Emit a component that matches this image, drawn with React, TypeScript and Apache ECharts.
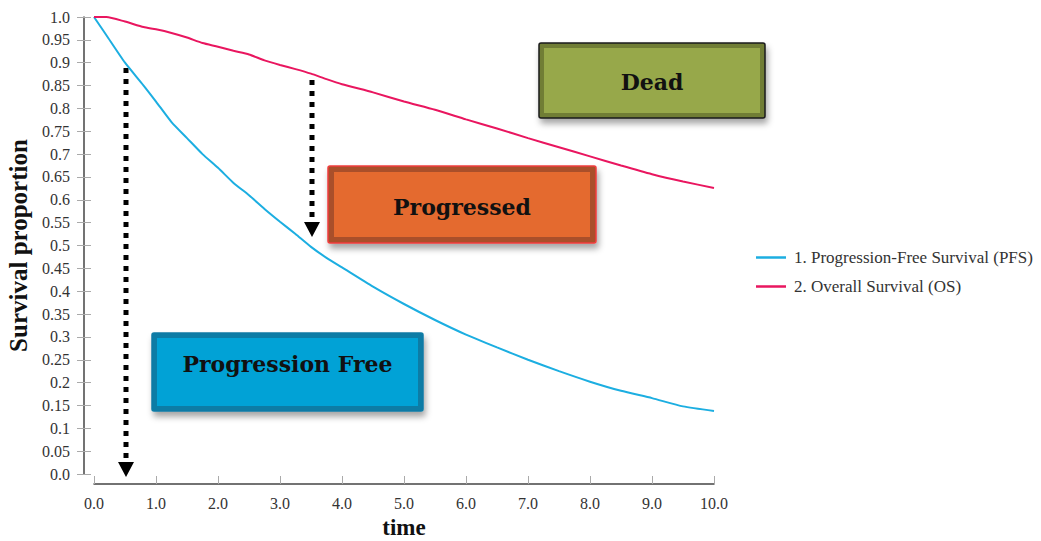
import React, { useEffect, useRef } from "react";
import * as echarts from "echarts";

const timePoints = [0, 0.2, 0.5, 0.8, 1.0, 1.25, 1.5, 1.75, 2.0, 2.25, 2.5, 2.75, 3.0, 3.25, 3.5, 3.75, 4.0, 4.5, 5.0, 5.5, 6.0, 6.5, 7.0, 7.5, 8.0, 8.5, 9.0, 9.5, 10.0];
const pfsValues = [1.0, 0.96, 0.9, 0.85, 0.815, 0.77, 0.735, 0.7, 0.67, 0.637, 0.61, 0.58, 0.552, 0.525, 0.497, 0.473, 0.452, 0.41, 0.372, 0.337, 0.305, 0.277, 0.25, 0.225, 0.202, 0.182, 0.166, 0.148, 0.138];
const osValues = [1.0, 1.0, 0.99, 0.978, 0.973, 0.965, 0.955, 0.943, 0.935, 0.926, 0.918, 0.905, 0.895, 0.886, 0.876, 0.864, 0.853, 0.835, 0.815, 0.797, 0.776, 0.756, 0.735, 0.715, 0.695, 0.675, 0.656, 0.64, 0.626];
const seriesNames = ["1. Progression-Free Survival (PFS)", "2. Overall Survival (OS)"];
const stateLabels = ["Dead", "Progressed", "Progression Free"];
const axisNames = { x: "time", y: "Survival proportion" };

const SERIF = "Liberation Serif";
const BOX_FONT = "bold 22px DejaVu Serif";

function box(x: number, y: number, w: number, h: number, outer: string, outerStroke: string, inset: number, fill: string, label: string, textDy: number) {
  return {
    type: "group",
    children: [
      {
        type: "rect",
        shape: { x, y, width: w, height: h, r: 2 },
        style: { fill: outer, stroke: outerStroke, lineWidth: 1.5, shadowBlur: 6, shadowOffsetY: 5, shadowOffsetX: 2, shadowColor: "rgba(0,0,0,0.35)" },
      },
      {
        type: "rect",
        shape: { x: x + inset, y: y + inset, width: w - 2 * inset, height: h - 2 * inset },
        style: { fill },
      },
      {
        type: "text",
        x: x + w / 2,
        y: y + h / 2 + textDy,
        style: { text: label, font: BOX_FONT, fill: "#111", align: "center", verticalAlign: "middle" },
      },
    ],
  };
}

function arrow(x: number, y1: number, y2: number) {
  return {
    type: "group",
    children: [
      { type: "line", shape: { x1: x, y1, x2: x, y2: y2 - 14 }, style: { stroke: "#000", lineWidth: 5, lineDash: [5, 6] } },
      { type: "polygon", shape: { points: [[x - 8, y2 - 15], [x + 8, y2 - 15], [x, y2]] }, style: { fill: "#000" } },
    ],
  };
}

export default function App() {
  const ref = useRef<HTMLDivElement>(null);
  useEffect(() => {
    if (!ref.current) return;
    const chart = echarts.init(ref.current, undefined, { renderer: "svg" });
    const yFmt = (v: number) => (v === 0 ? "0.0" : v === 1 ? "1.0" : String(+v.toFixed(2)));
    const yBase = { type: "value", min: 0, max: 1, interval: 0.05, position: "left", offset: 10 };
    chart.setOption({
      animation: false,
      backgroundColor: "#fff",
      grid: { left: 94, right: 327, top: 17, bottom: 67, containLabel: false, outerBoundsMode: "none" },
      legend: {
        orient: "vertical",
        left: 751,
        top: 244,
        itemGap: 12,
        itemWidth: 30,
        itemHeight: 2.5,
        icon: "rect",
        data: seriesNames,
        textStyle: { fontFamily: SERIF, fontSize: 17, color: "#333", padding: [0, 0, 0, 3] },
      },
      xAxis: {
        type: "value",
        min: 0,
        max: 10,
        interval: 1,
        offset: 10,
        name: axisNames.x,
        nameLocation: "middle",
        nameGap: 31,
        nameTextStyle: { fontFamily: SERIF, fontWeight: "bold", fontSize: 23, color: "#111" },
        axisLine: { show: true, onZero: false, lineStyle: { color: "#444", width: 1.5 } },
        axisTick: { show: true, inside: true, length: 8, lineStyle: { color: "#aaa" } },
        axisLabel: { fontFamily: SERIF, fontSize: 16, color: "#333", margin: 11, formatter: (v: number) => v.toFixed(1) },
        splitLine: { show: false },
      },
      yAxis: [
        {
          ...yBase,
          name: axisNames.y,
          nameLocation: "middle",
          nameGap: 52,
          nameTextStyle: { fontFamily: SERIF, fontWeight: "bold", fontSize: 25, color: "#111" },
          axisLine: { show: true, onZero: false, lineStyle: { color: "#444", width: 1.5 } },
          axisTick: { show: true, length: 7, lineStyle: { color: "#aaa" } },
          axisLabel: { fontFamily: SERIF, fontSize: 16, color: "#333", margin: 14, formatter: yFmt },
          splitLine: { show: false },
        },
        {
          ...yBase,
          axisLine: { show: false, onZero: false },
          axisTick: { show: true, inside: true, length: 7, lineStyle: { color: "#aaa" } },
          axisLabel: { show: false },
          splitLine: { show: false },
        },
      ],
      series: [
        {
          name: seriesNames[0],
          type: "line",
          showSymbol: false,
          smooth: 0.2,
          data: timePoints.map((t, i) => [t, pfsValues[i]]),
          lineStyle: { color: "#1caee1", width: 2 },
          itemStyle: { color: "#1caee1" },
        },
        {
          name: seriesNames[1],
          type: "line",
          showSymbol: false,
          smooth: 0.2,
          data: timePoints.map((t, i) => [t, osValues[i]]),
          lineStyle: { color: "#e9165f", width: 2 },
          itemStyle: { color: "#e9165f" },
        },
      ],
      graphic: [
        box(539, 43, 226, 75, "#6f7d34", "#1a1a1a", 5, "#97a84a", stateLabels[0], 1),
        box(328, 166, 268, 77, "#a9502a", "#f03c3c", 6, "#e46a2f", stateLabels[1], 2),
        box(152, 333, 271, 78, "#0d7ba5", "#0d7ba5", 5, "#01a2d6", stateLabels[2], -8),
        arrow(126, 68, 477),
        arrow(312, 80, 237),
      ],
    });
    return () => chart.dispose();
  }, []);
  return <div ref={ref} style={{ position: "fixed", left: 0, top: 0, width: 1041, height: 541 }} />;
}
